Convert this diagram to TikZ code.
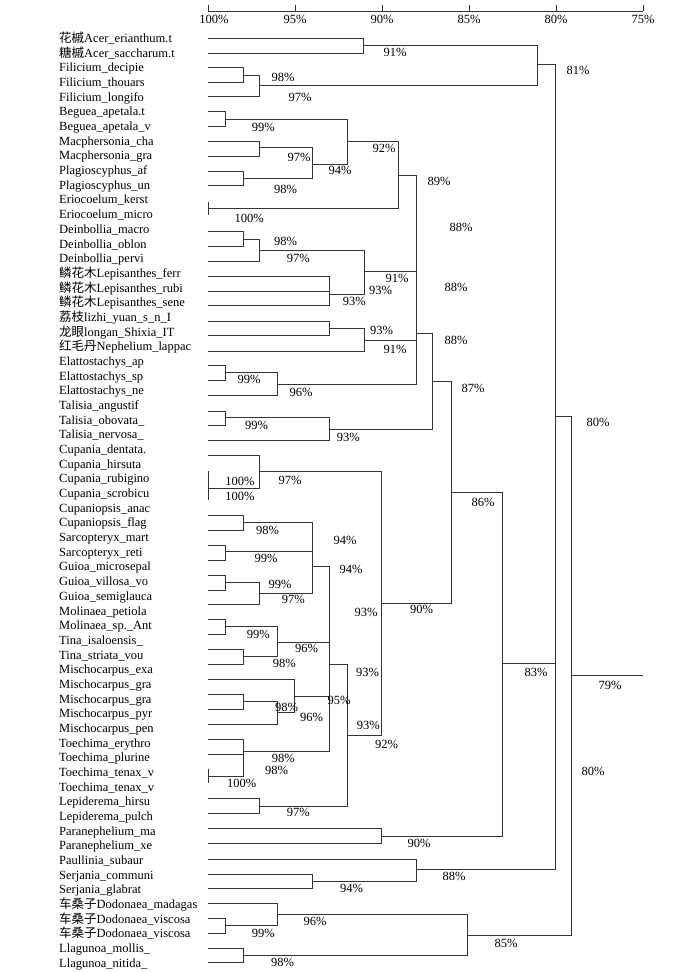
\documentclass[tikz,border=0pt]{standalone}
\usepackage{fontspec}
\setmainfont{Liberation Serif}
\newfontfamily\cjk{Noto Sans CJK SC}
\begin{document}
\begin{tikzpicture}[x=1pt,y=-1pt,
  br/.style={draw=black!80, line width=0.8pt},
  leaf/.style={anchor=base west, inner sep=0pt, font=\fontsize{12.5}{14}\selectfont},
  pct/.style={inner sep=0pt, font=\fontsize{12.5}{14}\selectfont}]
\fill[white] (0,0) rectangle (700,972);
\useasboundingbox (0,0) rectangle (700,972);
% axis
\coordinate (ax0) at (208,11);
\coordinate (ax1) at (643,11);
\draw[br] (ax0) -- (ax1);
\foreach \v [count=\k] in {100,95,...,75}{
  \coordinate (tk\k) at ({208+(100-\v)*17.4},5);
  \coordinate (tb\k) at ({208+(100-\v)*17.4},11);
  \draw[br] (tk\k) -- (tb\k);
}
\foreach \v/\x [count=\k] in {100/214,95/295,90/382,85/469,80/556,75/643}{
  \node[pct] (ax\k) at (\x,19) {\v\%};
}
% leaf labels
\foreach \t [count=\i] in {{{\cjk 花槭}Acer\_erianthum.t},{{\cjk 糖槭}Acer\_saccharum.t},Filicium\_decipie,Filicium\_thouars,Filicium\_longifo,Beguea\_apetala.t,Beguea\_apetala\_v,Macphersonia\_cha,Macphersonia\_gra,Plagioscyphus\_af,Plagioscyphus\_un,Eriocoelum\_kerst,Eriocoelum\_micro,Deinbollia\_macro,Deinbollia\_oblon,Deinbollia\_pervi,{{\cjk 鳞花木}Lepisanthes\_ferr},{{\cjk 鳞花木}Lepisanthes\_rubi},{{\cjk 鳞花木}Lepisanthes\_sene},{{\cjk 荔枝}lizhi\_yuan\_s\_n\_I},{{\cjk 龙眼}longan\_Shixia\_IT},{{\cjk 红毛丹}Nephelium\_lappac},Elattostachys\_ap,Elattostachys\_sp,Elattostachys\_ne,Talisia\_angustif,Talisia\_obovata\_,Talisia\_nervosa\_,Cupania\_dentata.,Cupania\_hirsuta,Cupania\_rubigino,Cupania\_scrobicu,Cupaniopsis\_anac,Cupaniopsis\_flag,Sarcopteryx\_mart,Sarcopteryx\_reti,Guioa\_microsepal,Guioa\_villosa\_vo,Guioa\_semiglauca,Molinaea\_petiola,Molinaea\_sp.\_Ant,Tina\_isaloensis\_,Tina\_striata\_vou,Mischocarpus\_exa,Mischocarpus\_gra,Mischocarpus\_gra,Mischocarpus\_pyr,Mischocarpus\_pen,Toechima\_erythro,Toechima\_plurine,Toechima\_tenax\_v,Toechima\_tenax\_v,Lepiderema\_hirsu,Lepiderema\_pulch,Paranephelium\_ma,Paranephelium\_xe,Paullinia\_subaur,Serjania\_communi,Serjania\_glabrat,{{\cjk 车桑子}Dodonaea\_madagas},{{\cjk 车桑子}Dodonaea\_viscosa},{{\cjk 车桑子}Dodonaea\_viscosa},Llagunoa\_mollis\_,Llagunoa\_nitida\_}{
  \node[leaf] (lab\i) at (59,{42.5+(\i-1)*14.68}) {\t};
}
% leaf line starts
\foreach \n/\y in {a1/38,a2/53,f1/67,f2/82,f3/96.7,b1/111.7,b2/126,m1/141.7,m2/156.7,p1/171.7,p2/185.7,
  d1/231.7,d2/246.7,d3/261,le1/276.7,le2/291,le3/305.7,li1/321,li2/335.7,li3/351,
  el1/365.7,el2/380.7,el3/395.3,t1/411,t2/425,t3/440,c1/455,cp1/515,cp2/530,s1/545,s2/560,
  g1/575,g2/590,g3/604.3,mo1/619.3,mo2/634,ti1/649.3,ti2/664,mi1/679.3,mi2/694.3,mi3/709.3,mi4/724.3,
  to1/739.3,to2/754,lp1/798.3,lp2/813.3,pa1/828.3,pa2/843.3,pl/859,se1/874,se2/888.3,
  do1/903.3,do2/918.3,do3/933.3,ll1/948.3,ll2/962.3,
  eri/208.3,eriT/202,eriB/215,cu0/488.3,cuT/471,cuB/500,to0/776,toT/769,toB/783}{
  \coordinate (\n) at (208,\y);
}
% internal nodes
\foreach \n/\x/\y in {nacer/363/45,nfa/243.3/75,nfb/259.3/85,n81/537/64.3,
  nbeg/225/119.3,nmac/259.3/147.7,npla/243.3/178.3,n97/312.3/164.3,n92/347.3/141.7,n89/398.3/175,
  ndea/243.3/239.3,ndeb/259.3/250,nlep/329/294.3,n91a/364/271.7,nlia/329/328.3,n91b/364/340,
  nela/225/372.7,nelb/277.3/384.3,n88/416.7/333,ntaa/225/417.7,ntab/329/429,n87/432.7/381,
  ncu/259.3/471.7,ncp/243.3/522.3,nsa/225/551.7,nga/225/582.3,ngb/259.3/593.3,nA/312.3/566,
  nmo/225/626.7,nti/243.3/656.7,n96/277.3/642.3,nmia/243.3/701.7,nmib/277.3/712.7,nmic/294/696,
  nto/243.3/751.7,nB/329/664,nlpd/259.3/806,nC/347.3/735,n90a/381.7/603.3,n86/451/492,
  npa/381.7/836,n83/502/663,nse/312.3/881,n88b/416.7/869,n80/555.7/416,
  ndoa/225/925.7,ndob/277.3/914.3,nll/243.3/955,n85/467.3/935,n79/571.7/675,root/643/675}{
  \coordinate (\n) at (\x,\y);
}
% brackets
\foreach \c/\p in {a1/nacer,a2/nacer,f1/nfa,f2/nfa,nfa/nfb,f3/nfb,nacer/n81,nfb/n81,
  b1/nbeg,b2/nbeg,m1/nmac,m2/nmac,p1/npla,p2/npla,nmac/n97,npla/n97,nbeg/n92,n97/n92,
  n92/n89,eri/n89,d1/ndea,d2/ndea,ndea/ndeb,d3/ndeb,le1/nlep,le2/nlep,le3/nlep,ndeb/n91a,nlep/n91a,
  li1/nlia,li2/nlia,nlia/n91b,li3/n91b,el1/nela,el2/nela,nela/nelb,el3/nelb,
  n89/n88,n91a/n88,n91b/n88,nelb/n88,t1/ntaa,t2/ntaa,ntaa/ntab,t3/ntab,n88/n87,ntab/n87,
  c1/ncu,cu0/ncu,cp1/ncp,cp2/ncp,s1/nsa,s2/nsa,g1/nga,g2/nga,nga/ngb,g3/ngb,ncp/nA,nsa/nA,ngb/nA,
  mo1/nmo,mo2/nmo,ti1/nti,ti2/nti,nmo/n96,nti/n96,mi2/nmia,mi3/nmia,nmia/nmib,mi4/nmib,mi1/nmic,nmib/nmic,
  to1/nto,to2/nto,to0/nto,nA/nB,n96/nB,nmic/nB,nto/nB,lp1/nlpd,lp2/nlpd,nB/nC,nlpd/nC,
  ncu/n90a,nC/n90a,n87/n86,n90a/n86,pa1/npa,pa2/npa,n86/n83,npa/n83,
  se1/nse,se2/nse,pl/n88b,nse/n88b,n81/n80,n83/n80,n88b/n80,
  do2/ndoa,do3/ndoa,do1/ndob,ndoa/ndob,ll1/nll,ll2/nll,ndob/n85,nll/n85,n80/n79,n85/n79}{
  \draw[br] (\c) -| (\p);
}
\draw[br] (eriT) -- (eriB);
\draw[br] (cuT) -- (cuB);
\draw[br] (toT) -- (toB);
\draw[br] (n79) -- (root);
% support values
\foreach \x/\y/\t [count=\k] in {395/52/91,578/70/81,283/77/98,300/97/97,263.3/127.3/99,384/148.3/92,
  299/157.3/97,340/170/94,439/181/89,285.7/189.3/98,249.3/218.3/100,461/227/88,285.7/241/98,
  298.3/258.3/97,397/278.3/91,456/287/88,380.5/290.5/93,354.3/301.7/93,381.7/330/93,456/340/88,
  395/349/91,249/379/99,473/388/87,301/392.7/96,598/422/80,256.7/425/99,348.3/437.7/93,
  290/480/97,240/481.7/100,240/496/100,483/502/86,267.7/530/98,345/540.7/94,266/558.3/99,
  351/569.3/94,280/584/99,293.3/599.3/97,421.7/609.3/90,366/612.3/93,258.3/634/99,306.7/648.3/96,
  284.3/663.3/98,536/672/83,367.7/672.3/93,610/685/79,339/700/95,286.7/707.3/98,311.7/717.7/96,
  368.3/725.7/93,386.7/744/92,283.3/758.3/98,276.7/770/98,593/771/80,241.7/783.3/100,298.3/812/97,
  419/843/90,454/876.5/88,351.7/888.3/94,315/921.7/96,263.3/933.3/99,506/943/85,282.7/962.3/98}{
  \node[pct] (pc\k) at (\x,\y) {\t\%};
}
\end{tikzpicture}
\end{document}
